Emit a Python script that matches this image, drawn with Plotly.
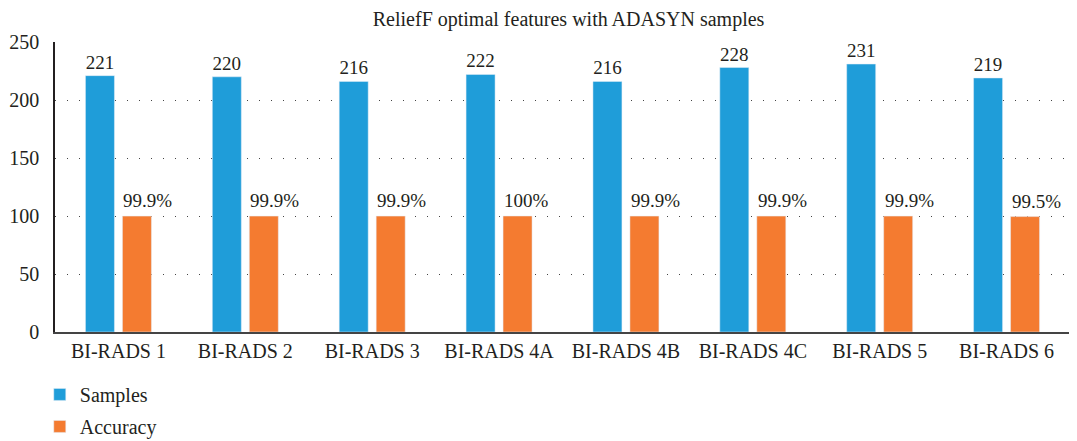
import plotly.graph_objects as go

categories = ["BI-RADS 1", "BI-RADS 2", "BI-RADS 3", "BI-RADS 4A",
              "BI-RADS 4B", "BI-RADS 4C", "BI-RADS 5", "BI-RADS 6"]
samples = [221, 220, 216, 222, 216, 228, 231, 219]
accuracy = [99.9, 99.9, 99.9, 100, 99.9, 99.9, 99.9, 99.5]
accuracy_labels = ["99.9%", "99.9%", "99.9%", "100%", "99.9%", "99.9%", "99.9%", "99.5%"]

font_main = "Liberation Serif"
ink = "#231f20"

fig = go.Figure()
fig.add_bar(x=categories, y=samples, name="Samples", marker_color="#1f9dd9",
            text=[str(v) for v in samples], textposition="outside",
            textfont=dict(size=19, color=ink), cliponaxis=False,
            legendgroup="a")
fig.add_bar(x=categories, y=accuracy, name="Accuracy", marker_color="#f47b30",
            legendgroup="b")

# accuracy labels sit slightly right of the orange bars in the original
for cat, val, lab in zip(categories, accuracy, accuracy_labels):
    fig.add_annotation(x=cat, y=val, text=lab, showarrow=False, xanchor="left",
                       yanchor="bottom", xshift=3, yshift=3,
                       font=dict(size=19, color=ink))

fig.update_layout(
    width=1069, height=433,
    margin=dict(l=47, r=7, t=34, b=109, autoexpand=False),
    paper_bgcolor="white", plot_bgcolor="white",
    font=dict(family=font_main, size=20, color=ink),
    title=dict(text="ReliefF optimal features with ADASYN samples", x=0.506, xref="paper",
               xanchor="center", y=0.974, yanchor="middle", font=dict(size=20)),
    barmode="group", bargap=0.417, bargroupgap=0.216,
    showlegend=True,
    legend=dict(orientation="v", x=-0.015, xanchor="left", y=-0.148, yanchor="top",
                font=dict(size=20), tracegroupgap=3, bgcolor="rgba(0,0,0,0)"),
    uniformtext=dict(mode="show", minsize=19),
)
fig.update_xaxes(showline=True, linecolor="#444", linewidth=1.5, ticks="",
                 showgrid=False, tickfont=dict(size=20))
fig.update_yaxes(range=[0, 250], dtick=50, showline=True, linecolor=ink, linewidth=1.5,
                 showgrid=True, gridcolor="#444", griddash="1px,11px", gridwidth=1,
                 zeroline=False, ticks="", tickfont=dict(size=20), ticklabelstandoff=10)

fig.write_html("out.html")
